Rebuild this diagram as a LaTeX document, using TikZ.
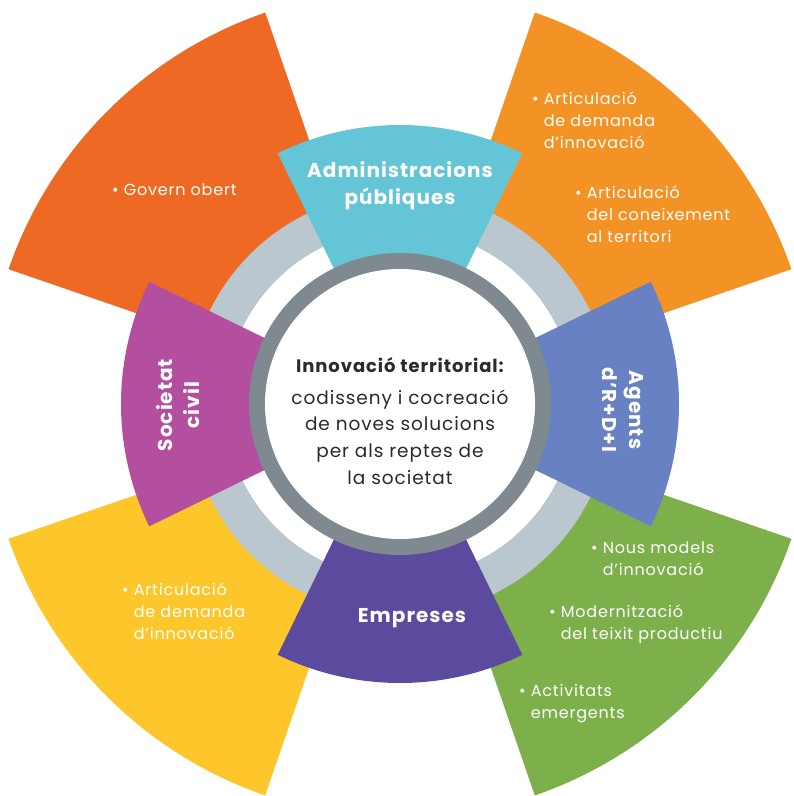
\documentclass[tikz,border=0pt]{standalone}
\usepackage{fontspec}
\setmainfont{Poppins}[LetterSpace=5]
\usetikzlibrary{positioning}

\definecolor{govred}{HTML}{EE6A24}
\definecolor{rdorange}{HTML}{F39325}
\definecolor{empgreen}{HTML}{7DAF4B}
\definecolor{socyellow}{HTML}{FDC62A}
\definecolor{admcyan}{HTML}{63C5D6}
\definecolor{agblue}{HTML}{6781C3}
\definecolor{empviolet}{HTML}{5C4A9E}
\definecolor{socmagenta}{HTML}{B44E9E}
\definecolor{ringdark}{HTML}{7E8A90}
\definecolor{ringlight}{HTML}{BAC7CE}
\definecolor{textdark}{HTML}{2B2B2B}

\newcommand{\bul}{\textbullet\ }
\newcommand{\ind}{\hphantom{\textbullet\ }}

\begin{document}
\begin{tikzpicture}[
        x=1pt, y=1pt,
        tablabel/.style = {text=white, font=\bfseries\fontsize{20}{27}\selectfont, align=center, inner sep=0pt},
        bullets/.style  = {text=white, font=\fontsize{16}{22}\selectfont, align=left, anchor=west, inner sep=0pt},
        centre/.style   = {text=textdark, align=center, inner sep=0pt}
    ]
        \useasboundingbox (-400,-392) rectangle (394,404);

        % light ring under everything
        \fill[ringlight, even odd rule] (0,0) circle (214) (0,0) circle (175);

        % big sectors
        \foreach \ang/\col in {45/rdorange, 135/govred, 225/socyellow, 315/empgreen}
            \fill[\col] ({\ang-26}:212) arc[start angle={\ang-26}, end angle={\ang+26}, radius=212]
                -- ({\ang+26}:414) arc[start angle={\ang+26}, end angle={\ang-26}, radius=414] -- cycle;

        % tabs
        \foreach \ang/\col in {90/admcyan, 0/agblue, 270/empviolet, 180/socmagenta}
            \fill[\col] ({\ang-26}:130) arc[start angle={\ang-26}, end angle={\ang+26}, radius=130]
                -- ({\ang+26}:279) arc[start angle={\ang+26}, end angle={\ang-26}, radius=279] -- cycle;

        % centre circle
        \fill[ringdark] (0,0) circle (151);
        \fill[white] (0,0) circle (135);

        \node[centre, font=\bfseries\fontsize{18}{22}\selectfont] (title) at (0,39) {Innovació territorial:};
        \node[centre, font=\fontsize{18.5}{26.7}\selectfont] (body) at (0,-33)
            {codisseny i cocreació\\de noves solucions\\per als reptes de\\la societat};

        % tab labels
        \node[tablabel] (adm) at (0,218) {Administracions\\públiques};
        \node[tablabel, rotate=-90] (agents) at (223,-6) {Agents\\d’R+D+I};
        \node[tablabel] (emp) at (12,-214) {Empreses};
        \node[tablabel, rotate=90] (soc) at (-222,-1) {Societat\\civil};

        % bullet texts
        \node[bullets] (gov) at (-288,214) {\bul Govern obert};
        \node[bullets] (rd1) at (132,284) {\bul Articulació\\\ind de demanda\\\ind d’innovació};
        \node[bullets] (rd2) at (175,190) {\bul Articulació\\\ind del coneixement\\\ind al territori};
        \node[bullets] (emp1) at (191,-155) {\bul Nous models\\\ind d’innovació};
        \node[bullets] (emp2) at (149,-220) {\bul Modernització\\\ind del teixit productiu};
        \node[bullets] (emp3) at (119,-300) {\bul Activitats\\\ind emergents};
        \node[bullets] (soc1) at (-278,-207) {\bul Articulació\\\ind de demanda\\\ind d’innovació};
    \end{tikzpicture}
\end{document}
